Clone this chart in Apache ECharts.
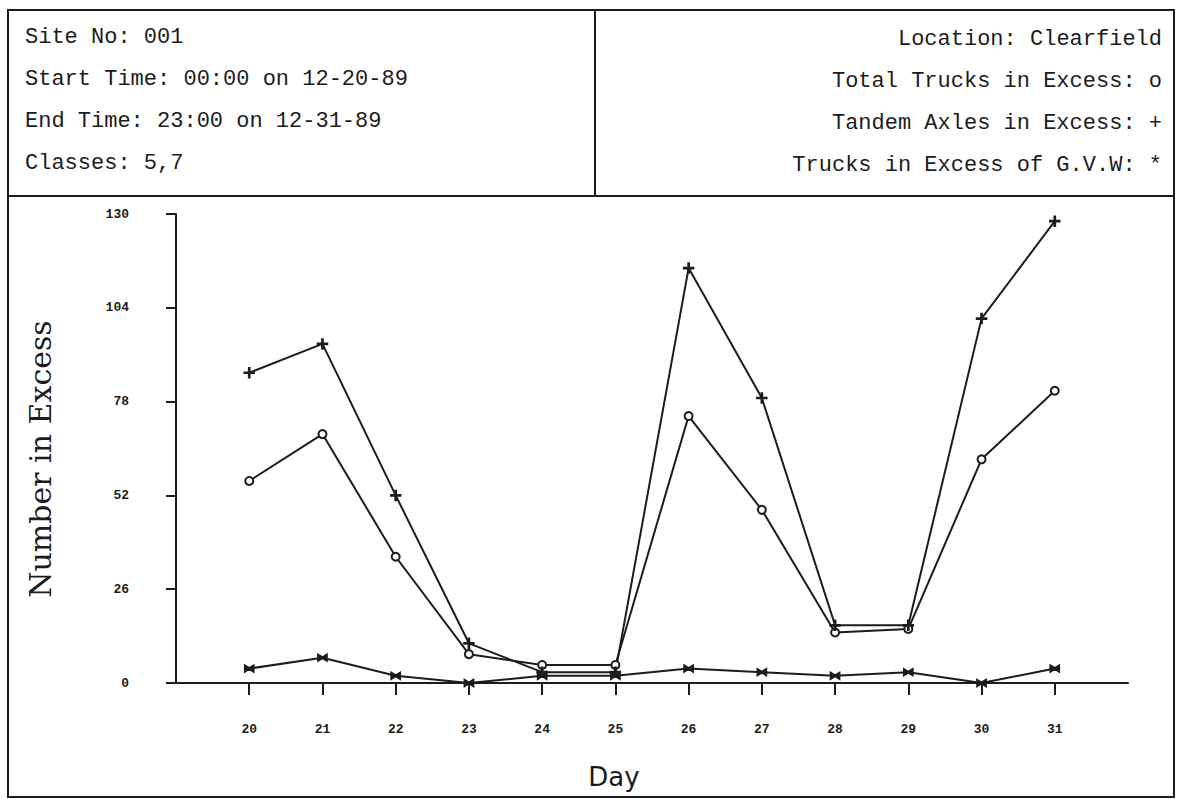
<!DOCTYPE html>
<html>
<head>
<meta charset="utf-8">
<script src="https://cdn.jsdelivr.net/npm/echarts@6/dist/echarts.min.js"></script>
<style>
html,body{margin:0;padding:0;background:#fff;}
#chart{width:1178px;height:799px;}
</style>
</head>
<body>
<div id="chart"></div>
<script>
const days = [20, 21, 22, 23, 24, 25, 26, 27, 28, 29, 30, 31];
const totalTrucks = [56, 69, 35, 8, 5, 5, 74, 48, 14, 15, 62, 81];
const tandemAxles = [86, 94, 52, 11, 3, 3, 115, 79, 16, 16, 101, 128];
const overGVW = [4, 7, 2, 0, 2, 2, 4, 3, 2, 3, 0, 4];
const yTicks = [0, 26, 52, 78, 104, 130];
const headerLeft = ['Site No: 001', 'Start Time: 00:00 on 12-20-89', 'End Time: 23:00 on 12-31-89', 'Classes: 5,7'];
const headerRight = ['Location: Clearfield', 'Total Trucks in Excess: o', 'Tandem Axles in Excess: +', 'Trucks in Excess of G.V.W: *'];

const ink = '#1c1c1c';
const pair = arr => arr.map((v, i) => [days[i], v]);

const plusPath = 'path://M4.4,0 H5.6 V10 H4.4 Z M0,4.4 H10 V5.6 H0 Z';
const starPath = 'path://M0,0 L5,4 L10,0 L10,10 L5,6 L0,10 Z';

const chart = echarts.init(document.getElementById('chart'), null, {renderer: 'svg'});

const graphics = [
  {type: 'rect', shape: {x: 8, y: 10, width: 1166, height: 787}, style: {fill: 'none', stroke: ink, lineWidth: 2}, silent: true},
  {type: 'line', shape: {x1: 8, y1: 196, x2: 1174, y2: 196}, style: {stroke: ink, lineWidth: 2}, silent: true},
  {type: 'line', shape: {x1: 595, y1: 10, x2: 595, y2: 196}, style: {stroke: ink, lineWidth: 2}, silent: true},
  {type: 'text', x: 40, y: 459, rotation: Math.PI / 2,
    style: {text: 'Number in Excess', font: '30px "DejaVu Serif"', fill: ink, textAlign: 'center', textVerticalAlign: 'middle'}},
  {type: 'text', x: 614, y: 777,
    style: {text: 'Day', font: '26px "DejaVu Sans"', fill: ink, textAlign: 'center', textVerticalAlign: 'middle'}}
];
headerLeft.forEach((t, i) => graphics.push({type: 'text', x: 25, y: 37 + i * 42,
  style: {text: t, font: '22px "Liberation Mono"', fill: ink, textAlign: 'left', textVerticalAlign: 'middle'}}));
headerRight.forEach((t, i) => graphics.push({type: 'text', x: 1162, y: 39 + i * 42,
  style: {text: t, font: '22px "Liberation Mono"', fill: ink, textAlign: 'right', textVerticalAlign: 'middle'}}));

const lineSeries = (name, data, symbol, size) => ({
  name, type: 'line', data: pair(data), symbol, symbolSize: size,
  lineStyle: {color: ink, width: 2},
  itemStyle: {color: ink, borderColor: ink, borderWidth: 1.5},
  emphasis: {disabled: true}, animation: false
});

chart.setOption({
  animation: false,
  backgroundColor: '#fff',
  grid: {left: 176, right: 50, top: 214, bottom: 116, containLabel: false},
  xAxis: {
    type: 'value', min: 19, max: 32, interval: 1,
    axisLine: {show: true, onZero: false, lineStyle: {color: ink, width: 2}},
    axisTick: {show: true, customValues: days, length: 12, lineStyle: {color: ink, width: 2}},
    axisLabel: {show: true, customValues: days, margin: 40,
      fontFamily: 'Liberation Mono', fontWeight: 'bold', fontSize: 13, color: ink},
    splitLine: {show: false}
  },
  yAxis: {
    type: 'value', min: 0, max: 130, interval: 26,
    axisLine: {show: true, lineStyle: {color: ink, width: 2}},
    axisTick: {show: true, customValues: yTicks, length: 10, lineStyle: {color: ink, width: 2}},
    axisLabel: {show: true, customValues: yTicks, margin: 47,
      fontFamily: 'Liberation Mono', fontWeight: 'bold', fontSize: 13, color: ink},
    splitLine: {show: false}
  },
  series: [
    lineSeries('Trucks in Excess of G.V.W', overGVW, starPath, [9, 7]),
    lineSeries('Total Trucks in Excess', totalTrucks, 'emptyCircle', 8),
    lineSeries('Tandem Axles in Excess', tandemAxles, plusPath, 10)
  ],
  graphic: graphics
});
</script>
</body>
</html>
